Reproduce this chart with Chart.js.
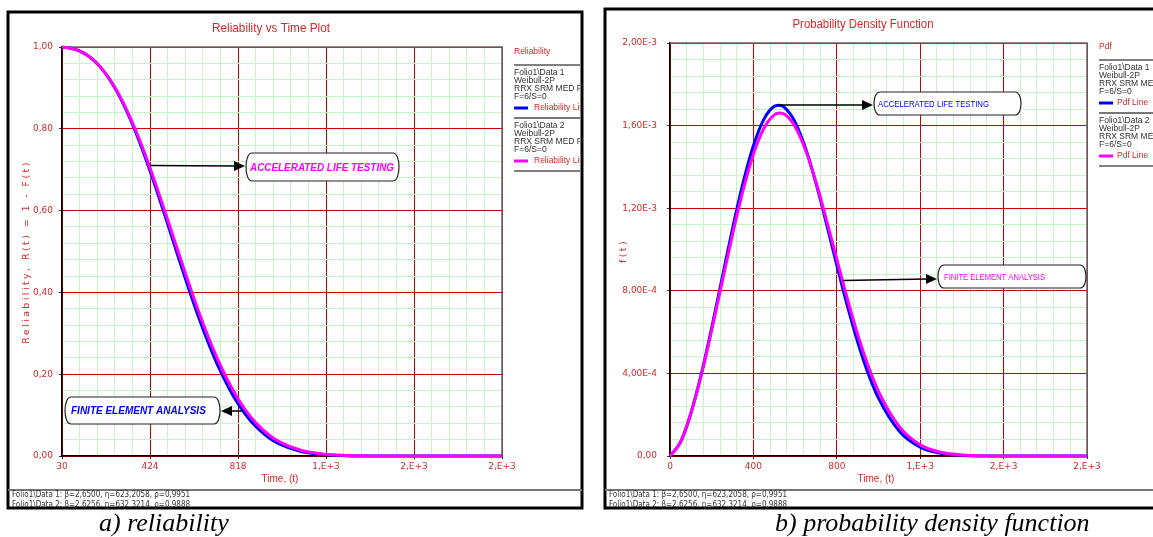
<!DOCTYPE html>
<html>
<head>
<meta charset="utf-8">
<script src="https://cdn.jsdelivr.net/npm/chart.js"></script>
<style>
  body { margin: 0; background: #fff; width: 1153px; height: 537px; overflow: hidden; position: relative; }
  canvas { position: absolute; top: 0; }
</style>
</head>
<body>
<canvas id="rel" width="595" height="537" style="left:0"></canvas>
<canvas id="pdf" width="558" height="537" style="left:595px"></canvas>
<script>
// values
const relTime = [30, 50, 100, 150, 200, 250, 300, 350, 400, 450, 500, 550, 600, 650, 700, 750, 800, 850, 900, 950, 1000, 1100, 1200, 1300, 1400, 1600, 2000]
const relData1 = [0.9997, 0.9988, 0.9922, 0.9773, 0.952, 0.915, 0.8658, 0.8052, 0.7343, 0.6558, 0.5725, 0.4877, 0.4048, 0.3269, 0.2565, 0.1952, 0.1439, 0.1027, 0.0708, 0.0471, 0.0302, 0.011, 0.0034, 0.0009, 0.0002, 0, 0]
const relData2 = [0.9997, 0.9987, 0.9921, 0.9774, 0.9525, 0.9163, 0.8683, 0.8093, 0.7405, 0.6641, 0.5828, 0.4999, 0.4184, 0.3413, 0.2709, 0.209, 0.1565, 0.1137, 0.08, 0.0544, 0.0357, 0.0139, 0.0046, 0.0013, 0.0003, 0, 0]
const relXTicks = [30, 424, 818, 1212, 1606, 2000]
const relXLabels = ['30', '424', '818', '1,E+3', '2,E+3', '2,E+3']
const relYTicks = [0, 0.2, 0.4, 0.6, 0.8, 1]
const relYLabels = ['0,00', '0,20', '0,40', '0,60', '0,80', '1,00']

const pdfTime = [0, 50, 100, 150, 200, 250, 300, 350, 400, 450, 500, 525, 550, 600, 650, 700, 750, 800, 850, 900, 950, 1000, 1100, 1200, 1300, 1400, 1600, 2000]
const pdfData1 = [0, 0.066e-3, 0.206e-3, 0.396e-3, 0.621e-3, 0.862e-3, 1.102e-3, 1.321e-3, 1.502e-3, 1.630e-3, 1.693e-3, 1.698e-3, 1.687e-3, 1.617e-3, 1.490e-3, 1.321e-3, 1.127e-3, 0.924e-3, 0.729e-3, 0.552e-3, 0.401e-3, 0.280e-3, 0.120e-3, 0.043e-3, 0.013e-3, 0.003e-3, 0, 0]
const pdfData2 = [0, 0.067e-3, 0.206e-3, 0.391e-3, 0.609e-3, 0.842e-3, 1.073e-3, 1.285e-3, 1.461e-3, 1.586e-3, 1.652e-3, 1.661e-3, 1.655e-3, 1.595e-3, 1.482e-3, 1.327e-3, 1.145e-3, 0.953e-3, 0.764e-3, 0.589e-3, 0.438e-3, 0.313e-3, 0.142e-3, 0.054e-3, 0.018e-3, 0.005e-3, 0, 0]
const pdfXTicks = [0, 400, 800, 1200, 1600, 2000]
const pdfXLabels = ['0', '400', '800', '1,E+3', '2,E+3', '2,E+3']
const pdfYTicks = [0, 0.0004, 0.0008, 0.0012, 0.0016, 0.002]
const pdfYLabels = ['0,00', '4,00E-4', '8,00E-4', '1,20E-3', '1,60E-3', '2,00E-3']

const series1Info = ['Folio1\\Data 1', 'Weibull-2P', 'RRX SRM MED FM', 'F=6/S=0']
const series2Info = ['Folio1\\Data 2', 'Weibull-2P', 'RRX SRM MED FM', 'F=6/S=0']
const paramLines = ['Folio1\\Data 1: β=2,6500, η=623,2058, ρ=0,9951', 'Folio1\\Data 2: β=2,6256, η=632,3214, ρ=0,9888']

const RED = '#cc0000'
const GREEN = '#c4f5c4'
const TXT = '#d42a2a'
const BLUE = '#0000ff'
const MAGENTA = '#ff00ff'

function withMinors(major, n) {
  const out = []
  for (let i = 0; i < major.length - 1; i++) {
    const step = (major[i + 1] - major[i]) / n
    for (let k = 0; k < n; k++) out.push(major[i] + k * step)
  }
  out.push(major[major.length - 1])
  return out
}

function axis(pos, major, labels, size, pad) {
  const all = withMinors(major, 5)
  return {
    type: 'linear',
    position: pos,
    min: major[0],
    max: major[major.length - 1],
    afterBuildTicks: (s) => { s.ticks = all.map((v) => ({ value: v })) },
    afterFit: (s) => { if (pos === 'left') s.width = size; else s.height = size },
    grid: {
      color: (c) => (c.index % 5 === 0 ? RED : GREEN),
      lineWidth: 1,
      tickLength: 3,
      tickColor: (c) => (c.index % 5 === 0 ? '#333' : 'rgba(0,0,0,0)'),
    },
    border: { display: true, color: '#000', width: 1.5 },
    ticks: {
      autoSkip: false,
      maxRotation: 0,
      padding: pad,
      color: TXT,
      font: { family: 'DejaVu Sans', size: 9 },
      callback: (v, i) => (i % 5 === 0 ? labels[i / 5] : ''),
    },
  }
}

function txt(ctx, s, x, y, font, color, align, maxW) {
  ctx.font = font
  ctx.fillStyle = color
  ctx.textAlign = align || 'left'
  ctx.textBaseline = 'middle'
  if (maxW) ctx.fillText(s, x, y, maxW)
  else ctx.fillText(s, x, y)
}

function hline(ctx, x1, x2, y, color, w) {
  ctx.strokeStyle = color
  ctx.lineWidth = w
  ctx.beginPath()
  ctx.moveTo(x1, y)
  ctx.lineTo(x2, y)
  ctx.stroke()
}

function bubble(ctx, x1, y1, x2, y2) {
  const r = 7
  ctx.fillStyle = '#fff'
  ctx.strokeStyle = '#222'
  ctx.lineWidth = 1.2
  ctx.beginPath()
  ctx.moveTo(x1 + r, y1)
  ctx.lineTo(x2 - r, y1)
  ctx.bezierCurveTo(x2 + 1, y1, x2 + 1, y2, x2 - r, y2)
  ctx.lineTo(x1 + r, y2)
  ctx.bezierCurveTo(x1 - 1, y2, x1 - 1, y1, x1 + r, y1)
  ctx.closePath()
  ctx.fill()
  ctx.stroke()
}

function arrow(ctx, x1, y1, x2, y2) {
  const dir = Math.sign(x2 - x1)
  ctx.strokeStyle = '#000'
  ctx.fillStyle = '#000'
  ctx.lineWidth = 1.5
  ctx.beginPath()
  ctx.moveTo(x1, y1)
  ctx.lineTo(x2 - dir * 10, y2)
  ctx.stroke()
  ctx.beginPath()
  ctx.moveTo(x2, y2)
  ctx.lineTo(x2 - dir * 11, y2 - 5)
  ctx.lineTo(x2 - dir * 11, y2 + 5)
  ctx.closePath()
  ctx.fill()
}

function decorations(d) {
  return {
    id: 'decorations',
    beforeDatasetsDraw(chart) {
      const { ctx, chartArea: a } = chart
      ctx.save()
      ctx.strokeStyle = '#666'
      ctx.lineWidth = 1.5
      ctx.beginPath()
      ctx.moveTo(a.left, a.top)
      ctx.lineTo(a.right, a.top)
      ctx.lineTo(a.right, a.bottom)
      ctx.stroke()
      ctx.restore()
    },
    afterDraw(chart) {
      const ctx = chart.ctx
      const sx = chart.scales.x
      const sy = chart.scales.y
      ctx.save()

      // titles
      txt(ctx, d.title, d.titleX, d.titleY, '12px "Liberation Sans"', TXT, 'center', d.titleW)
      txt(ctx, 'Time, (t)', d.xTitleX, 479, '10px "Liberation Sans"', TXT, 'center')
      ctx.save()
      ctx.translate(d.yTitleX, d.yTitleY)
      ctx.rotate(-Math.PI / 2)
      ctx.letterSpacing = '2.4px'
      txt(ctx, d.yTitle, 0, 0, '9.5px "DejaVu Sans"', TXT, 'center')
      ctx.restore()

      // annotations
      for (const an of d.notes) {
        arrow(ctx, sx.getPixelForValue(an.t), sy.getPixelForValue(an.v), an.tipX, an.tipY)
        bubble(ctx, an.box[0], an.box[1], an.box[2], an.box[3])
        txt(ctx, an.text, an.textX, (an.box[1] + an.box[3]) / 2 + 1, an.font, an.color, 'left', an.textW)
      }

      // legend block
      ctx.save()
      ctx.beginPath()
      ctx.rect(0, 0, d.clipRight, 537)
      ctx.clip()
      const lx = d.legX
      const ly = d.legY
      const R = d.clipRight + 10
      txt(ctx, d.legHead, lx, ly, '8.5px "Liberation Sans"', TXT, 'left')
      hline(ctx, lx, R, ly + 13, '#000', 1)
      const blocks = [[series1Info, BLUE], [series2Info, MAGENTA]]
      blocks.forEach(([info, col], b) => {
        const by = ly + 21 + b * 53
        info.forEach((s, i) => txt(ctx, s, lx, by + i * 8, '8.5px "Liberation Sans"', '#333', 'left'))
        hline(ctx, lx, lx + 14, by + 35, col, 3)
        txt(ctx, d.lineLabel, lx + d.lineLabelDx, by + 35, '8.5px "Liberation Sans"', TXT, 'left')
        hline(ctx, lx, R, by + 45, b === 0 ? '#777' : '#000', b === 0 ? 2 : 1)
      })
      ctx.restore()

      // frame and parameter strip
      ctx.strokeStyle = '#000'
      ctx.lineWidth = 3
      ctx.strokeRect(d.frame[0], d.frame[1], d.frame[2] - d.frame[0], d.frame[3] - d.frame[1])
      hline(ctx, d.frame[0], d.frame[2], 490, '#777', 2)
      paramLines.forEach((s, i) => txt(ctx, s, d.frame[0] + 4, 495 + i * 9.5, '8px "DejaVu Sans Condensed"', '#333', 'left', 180))

      // caption
      ctx.font = 'italic 26px "Liberation Serif"'
      ctx.fillStyle = '#000'
      ctx.textAlign = 'left'
      ctx.textBaseline = 'alphabetic'
      ctx.fillText(d.caption, d.captionX, 531, d.captionW)
      ctx.restore()
    },
  }
}

function makeChart(id, time, d1, d2, xAxis, yAxis, pad, deco) {
  const pts = (arr) => arr.map((v, i) => ({ x: time[i], y: v }))
  return new Chart(document.getElementById(id), {
    type: 'line',
    data: {
      datasets: [
        { label: 'Data 1', data: pts(d1), borderColor: BLUE, borderWidth: 3, pointRadius: 0, cubicInterpolationMode: 'monotone', clip: 4, order: 2 },
        { label: 'Data 2', data: pts(d2), borderColor: MAGENTA, borderWidth: 3, pointRadius: 0, cubicInterpolationMode: 'monotone', clip: 4, order: 1 },
      ],
    },
    options: {
      responsive: false,
      animation: false,
      layout: { padding: pad },
      plugins: { legend: { display: false }, tooltip: { enabled: false } },
      scales: { x: xAxis, y: yAxis },
    },
    plugins: [decorations(deco)],
  })
}

makeChart('rel', relTime, relData1, relData2,
  axis('bottom', relXTicks, relXLabels, 30, 2),
  axis('left', relYTicks, relYLabels, 40, 6),
  { left: 22, top: 47, right: 93, bottom: 51 },
  {
    title: 'Reliability vs Time Plot', titleX: 271, titleY: 29, titleW: 118,
    xTitleX: 280, yTitle: 'Reliability, R(t) = 1 - F(t)', yTitleX: 27, yTitleY: 252,
    legHead: 'Reliability', legX: 514, legY: 52, lineLabel: 'Reliability Line', lineLabelDx: 20, clipRight: 580,
    frame: [8, 12, 582, 508],
    caption: 'a) reliability', captionX: 99, captionW: 134,
    notes: [
      { t: 424, v: 0.71, tipX: 245, tipY: 166, box: [245, 153, 400, 181], text: 'ACCELERATED LIFE TESTING', textX: 250, textW: 144, font: 'bold italic 10px "Liberation Sans"', color: MAGENTA },
      { t: 840, v: 0.11, tipX: 221, tipY: 411, box: [64, 397, 221, 424], text: 'FINITE ELEMENT ANALYSIS', textX: 71, textW: 135, font: 'bold italic 10px "Liberation Sans"', color: BLUE },
    ],
  })

makeChart('pdf', pdfTime, pdfData1, pdfData2,
  axis('bottom', pdfXTicks, pdfXLabels, 30, 2),
  axis('left', pdfYTicks, pdfYLabels, 55, 10),
  { left: 20, top: 43, right: 66, bottom: 51 },
  {
    title: 'Probability Density Function', titleX: 268, titleY: 25, titleW: 141,
    xTitleX: 281, yTitle: 'f(t)', yTitleX: 29, yTitleY: 251,
    legHead: 'Pdf', legX: 504, legY: 47, lineLabel: 'Pdf Line', lineLabelDx: 18, clipRight: 570,
    frame: [10, 9, 600, 508],
    caption: 'b) probability density function', captionX: 180, captionW: 323,
    notes: [
      { t: 518, v: 0.0017, tipX: 278, tipY: 105, box: [278, 92, 427, 115], text: 'ACCELERATED LIFE TESTING', textX: 283, textW: 111, font: '9px "Liberation Sans"', color: BLUE },
      { t: 830, v: 0.00085, tipX: 342, tipY: 279, box: [342, 265, 492, 288], text: 'FINITE ELEMENT ANALYSIS', textX: 349, textW: 101, font: '9px "Liberation Sans"', color: MAGENTA },
    ],
  })
</script>
</body>
</html>
